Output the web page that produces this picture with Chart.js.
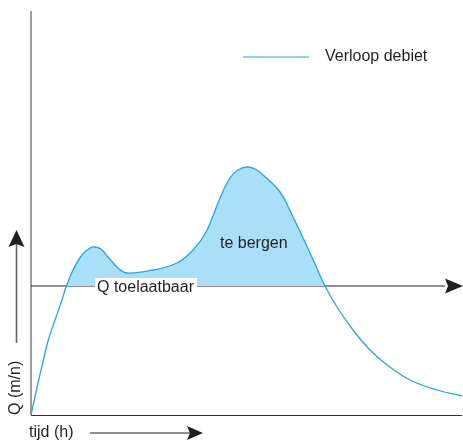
<!DOCTYPE html>
<html>
<head>
<meta charset="utf-8">
<script src="https://cdn.jsdelivr.net/npm/chart.js@4/dist/chart.umd.min.js"></script>
<style>
  html, body { margin: 0; padding: 0; background: #fff; }
  canvas { display: block; }
</style>
</head>
<body>
<canvas id="debietChart" width="463" height="442"></canvas>
<script>
const tijd = [0, 0.7, 1.2, 1.7, 2.4, 3.1, 3.5, 4.2, 5.1, 5.9, 6.4, 7.0, 7.7, 8.7, 9.6, 12.2, 14.6, 16.2, 17.4, 18.2, 18.9, 19.9, 20.7, 21.6, 22.4, 23.2, 24.9, 26.2, 27.4, 28.4, 29.4, 30.6, 32.2, 33.9, 35.6, 37.9, 40.6, 43.1];
const debiet = [0, 3.2, 5.3, 7.4, 9.5, 11.5, 12.8, 14.5, 16.0, 16.7, 16.8, 16.6, 15.8, 14.7, 14.2, 14.5, 15.2, 16.5, 18.1, 19.9, 21.7, 23.7, 24.5, 24.8, 24.6, 24.0, 22.3, 19.8, 17.3, 15.1, 12.9, 10.8, 8.5, 6.5, 5.0, 3.5, 2.5, 1.9];
const qToelaatbaar = 12.9;
const qLijnTijd = [0, 41.4];

const LIJN_KLEUR = '#27a6df';
const VUL_KLEUR = '#aadff8';
const TEKST = '#231f20';
const FONT = '16px "Liberation Sans", Arial, sans-serif';

// pijlpunt tekenen
function arrowHead(ctx, tipX, tipY, dir, len, half) {
    ctx.beginPath();
    if (dir === 'right') {
        ctx.moveTo(tipX, tipY);
        ctx.lineTo(tipX - len, tipY - half);
        ctx.lineTo(tipX - len + 3, tipY);
        ctx.lineTo(tipX - len, tipY + half);
    } else {
        ctx.moveTo(tipX, tipY);
        ctx.lineTo(tipX - half, tipY + len);
        ctx.lineTo(tipX, tipY + len - 3);
        ctx.lineTo(tipX + half, tipY + len);
    }
    ctx.closePath();
    ctx.fill();
}

const decorPlugin = {
    id: 'decor',
    beforeDatasetsDraw(chart) {
        const ctx = chart.ctx;
        const x = chart.scales.x, y = chart.scales.y;
        ctx.save();
        // y-as (grijs)
        ctx.strokeStyle = '#8c8c8c';
        ctx.lineWidth = 1.7;
        ctx.beginPath();
        ctx.moveTo(x.getPixelForValue(0), chart.chartArea.top);
        ctx.lineTo(x.getPixelForValue(0), y.getPixelForValue(0));
        ctx.stroke();
        // x-as
        ctx.strokeStyle = '#333';
        ctx.lineWidth = 1.2;
        ctx.beginPath();
        ctx.moveTo(x.getPixelForValue(0), y.getPixelForValue(0) + 0.5);
        ctx.lineTo(chart.chartArea.right - 1, y.getPixelForValue(0) + 0.5);
        ctx.stroke();
        ctx.restore();
    },
    afterDatasetsDraw(chart) {
        const ctx = chart.ctx;
        const x = chart.scales.x, y = chart.scales.y;
        const qy = y.getPixelForValue(qToelaatbaar);
        ctx.save();
        ctx.fillStyle = TEKST;
        // pijlpunt Q toelaatbaar
        arrowHead(ctx, x.getPixelForValue(qLijnTijd[1]) + 18, qy, 'right', 18, 7.5);

        ctx.font = FONT;
        ctx.textBaseline = 'alphabetic';
        // label Q toelaatbaar met witte achtergrond
        ctx.fillStyle = '#fff';
        ctx.fillRect(95, qy - 8, 102, 16);
        ctx.fillStyle = TEKST;
        ctx.fillText('Q toelaatbaar', 97, qy + 6);

        ctx.fillText('te bergen', 220, 248);

        // legenda
        ctx.strokeStyle = LIJN_KLEUR;
        ctx.lineWidth = 1.2;
        ctx.beginPath();
        ctx.moveTo(243, 57);
        ctx.lineTo(309, 57);
        ctx.stroke();
        ctx.fillText('Verloop debiet', 325, 61);

        // x-as titel + pijl
        ctx.fillText('tijd (h)', 29, 437);
        ctx.strokeStyle = TEKST;
        ctx.lineWidth = 1.2;
        ctx.beginPath();
        ctx.moveTo(90, 433);
        ctx.lineTo(190, 433);
        ctx.stroke();
        arrowHead(ctx, 203, 433, 'right', 16, 7);

        // y-as titel + pijl
        ctx.save();
        ctx.translate(20, 415);
        ctx.rotate(-Math.PI / 2);
        ctx.fillText('Q (m/n)', 0, 0);
        ctx.restore();
        ctx.strokeStyle = '#666';
        ctx.lineWidth = 1.6;
        ctx.beginPath();
        ctx.moveTo(16.5, 343);
        ctx.lineTo(16.5, 244);
        ctx.stroke();
        ctx.fillStyle = TEKST;
        arrowHead(ctx, 16.5, 230, 'up', 17, 8);
        ctx.restore();
    }
};

new Chart(document.getElementById('debietChart'), {
    type: 'line',
    data: {
        datasets: [
            {
                label: 'Verloop debiet',
                data: tijd.map((t, i) => ({ x: t, y: debiet[i] })),
                borderColor: LIJN_KLEUR,
                borderWidth: 1.3,
                pointRadius: 0,
                tension: 0.4,
                fill: { target: { value: qToelaatbaar }, above: VUL_KLEUR, below: 'rgba(0,0,0,0)' },
                clip: false,
                order: 1
            },
            {
                label: 'Q toelaatbaar',
                data: qLijnTijd.map(t => ({ x: t, y: qToelaatbaar })),
                borderColor: TEKST,
                borderWidth: 1.2,
                pointRadius: 0,
                fill: false,
                clip: false,
                order: 2
            }
        ]
    },
    options: {
        responsive: false,
        animation: false,
        layout: { padding: { left: 31, right: 0, top: 11, bottom: 27 } },
        plugins: { legend: { display: false }, tooltip: { enabled: false } },
        scales: {
            x: { type: 'linear', min: 0, max: 43.2, display: false },
            y: { type: 'linear', min: 0, max: 40.4, display: false }
        }
    },
    plugins: [decorPlugin]
});
</script>
</body>
</html>
